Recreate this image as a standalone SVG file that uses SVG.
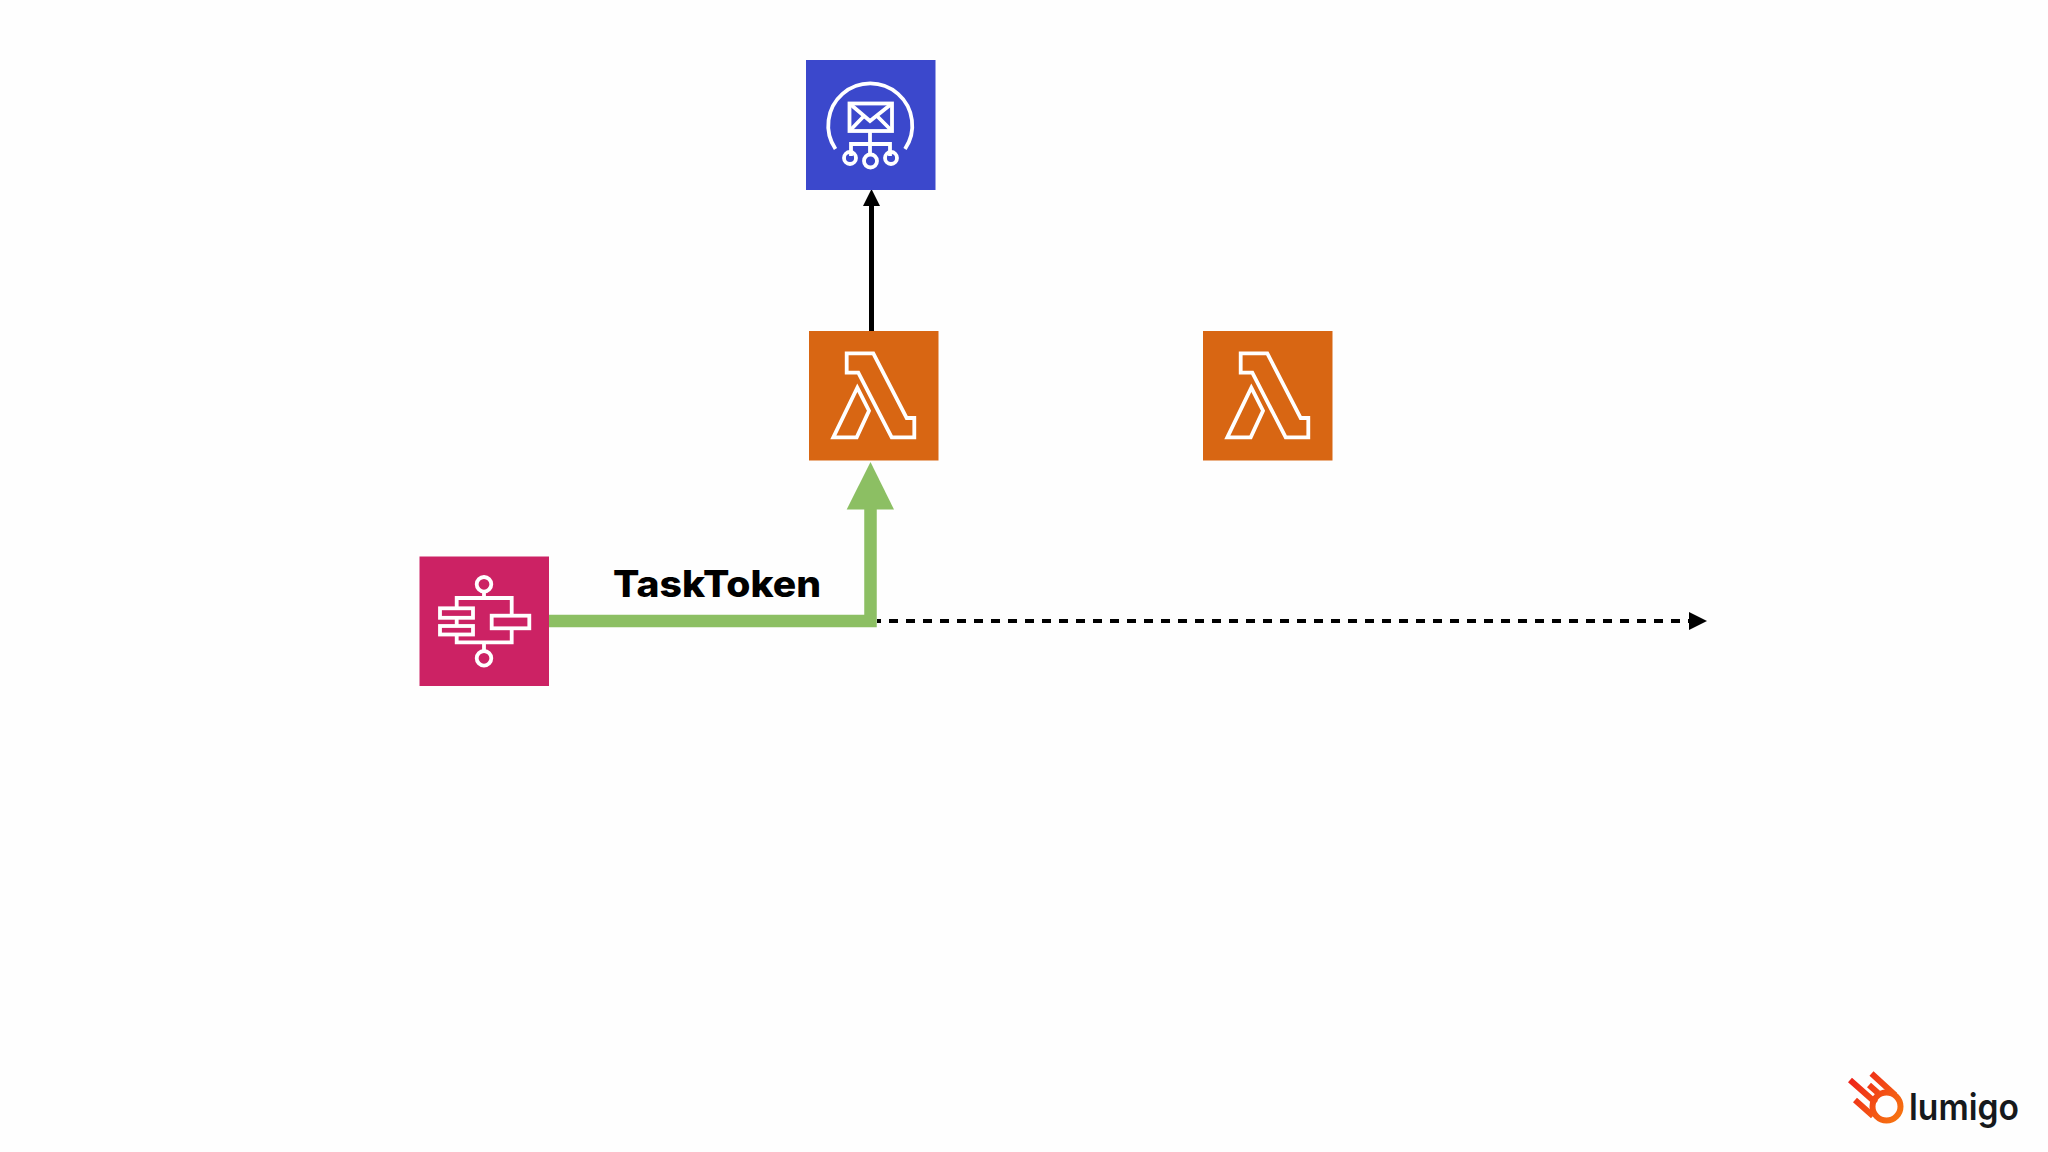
<svg xmlns="http://www.w3.org/2000/svg" width="2048" height="1152" viewBox="0 0 2048 1152">
<style>
.i{fill:none;stroke:#fff;stroke-width:3.8}
.l{fill:none;stroke:#fff;stroke-width:3.8;stroke-linejoin:miter}
.s{fill:none;stroke:url(#g);stroke-width:6}
text{font-family:"Inter","Open Sans","Liberation Sans",sans-serif}
</style>
<defs>
<linearGradient id="g" gradientUnits="userSpaceOnUse" x1="1850" y1="1075" x2="1905" y2="1120"><stop offset="0" stop-color="#ee1f1a"/><stop offset="1" stop-color="#f77a10"/></linearGradient>
<g id="lam">
<rect x="809" y="331" width="129.500" height="129.500" fill="#d86613"/>
<path class="l" d="M846.700 353.300H873.300L906.700 418H914.300V437.300H891.700L858.300 372.700H846.700Z"/>
<path class="l" d="M857.300 387.700L869 410.700L856.700 437.300H833.300Z"/>
</g>
</defs>
<rect width="2048" height="1152" fill="#fefefe"/>
<g id="connectors">
<path d="M871.500 332V205" fill="none" stroke="#000" stroke-width="5"/>
<path d="M871.500 189L880 206H863Z" fill="#000"/>
<path d="M877 621H1692" fill="none" stroke="#000" stroke-width="4" stroke-dasharray="9 8" stroke-dashoffset="5"/>
<path d="M1689 612L1707 621L1689 630Z" fill="#000"/>
<path d="M549 621H870.500V505" fill="none" stroke="#8cbf63" stroke-width="12.500"/>
<path d="M870.500 462L894 509.500H846.700Z" fill="#8cbf63"/>
</g>
<g id="sns">
<rect x="806" y="60" width="129.500" height="130" fill="#3b48cc"/>
<path class="i" d="M835.500 149A42 42 0 1 1 905 149"/>
<rect class="i" x="849.500" y="103.500" width="42.500" height="27.500"/>
<path class="i" d="M849.500 103.500L870 121L892 103.500M849.500 131L864 116M892 131L877 116M870 131V155M851 156V144H890V156"/>
<circle class="i" cx="850" cy="158" r="6"/>
<circle class="i" cx="870.500" cy="161" r="6.500"/>
<circle class="i" cx="891" cy="158" r="6"/>
</g>
<g id="lambda-1"><use href="#lam"/></g>
<g id="lambda-2"><use href="#lam" x="394"/></g>
<g id="step-functions">
<rect x="419.500" y="556.500" width="129.500" height="129.500" fill="#cc2264"/>
<circle class="i" cx="484" cy="584.300" r="7.300"/>
<circle class="i" cx="484" cy="658.300" r="7.300"/>
<rect class="i" x="440" y="608.300" width="33" height="9.500"/>
<rect class="i" x="440" y="626" width="33" height="8.500"/>
<rect class="i" x="491.700" y="615.700" width="37.600" height="12.600"/>
<path class="i" d="M484 591.500V598M456.700 608V598H511.700V615.700M456.700 618V626M456.700 634.500V642.300H511.700V628.300M484 642.300V651"/>
</g>
<g id="label"><text x="613" y="597" font-size="36.500" font-weight="800" fill="#000" textLength="208" lengthAdjust="spacingAndGlyphs">TaskToken</text></g>
<g id="lumigo-logo">
<circle class="s" cx="1886.500" cy="1106.500" r="14"/>
<path class="s" d="M1850 1080L1876 1103M1871.500 1073.500L1895 1095M1855 1100L1873 1116M1869 1085L1878 1093"/>
<text x="1909" y="1120" font-size="37" font-weight="600" fill="#16191c" textLength="110" lengthAdjust="spacingAndGlyphs">lumigo</text>
</g>
</svg>
